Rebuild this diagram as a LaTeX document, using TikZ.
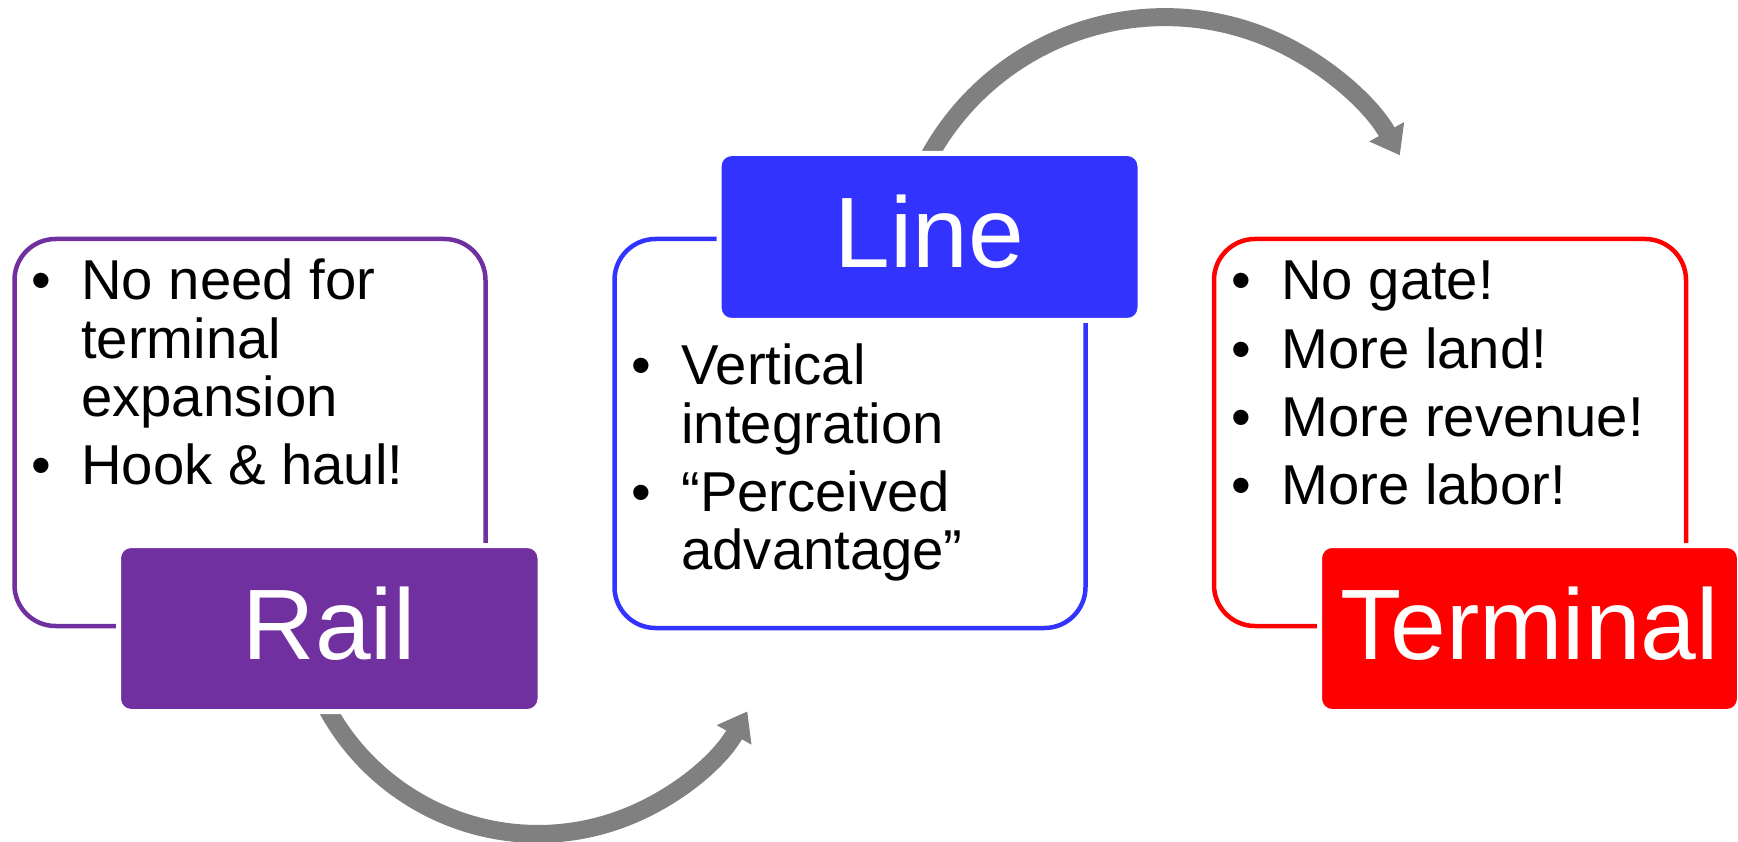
\documentclass[tikz,border=0pt]{standalone}
\usepackage{fontspec}
\setmainfont{Liberation Sans}
\usepackage{xcolor}
\usetikzlibrary{arrows.meta}

\definecolor{railpurple}{HTML}{7030A0}
\definecolor{lineblue}{HTML}{3333FF}
\definecolor{termred}{HTML}{FF0000}
\definecolor{arrowgray}{HTML}{808080}

\tikzset{
    outline/.style={rectangle, rounded corners=0.82cm, line width=0.09cm, inner sep=0pt},
    titlebox/.style={rectangle, rounded corners=0.25cm, draw=white, line width=0.1cm, text=white,
        font=\fontsize{57}{62}\selectfont, text height=1.44cm, text depth=0.2cm, inner sep=0pt},
    bullets/.style={anchor=base west, inner sep=0pt, font=\fontsize{32}{33}\selectfont},
    flow/.style={draw=arrowgray, line width=0.36cm, -{Triangle[width=0.76cm,length=0.54cm]}}
}

\begin{document}
\begin{tikzpicture}
            \useasboundingbox (0,0) rectangle (34.76,16.82);

            \node (railbox) at (5.0,8.17) [outline, draw=railpurple, minimum width=9.42cm, minimum height=7.74cm] {};
            \node (linebox) at (17.0,8.15) [outline, draw=lineblue, minimum width=9.42cm, minimum height=7.78cm] {};
            \node (termbox) at (29.0,8.17) [outline, draw=termred, minimum width=9.44cm, minimum height=7.74cm] {};

            \node (railtext) at (0.62,10.82) [bullets] {\begin{tabular}[t]{@{}p{1.0cm}@{}l@{}}
                • & No need for\\ & terminal\\ & expansion\\[0.2cm]
                • & Hook \& haul!
            \end{tabular}};
            \node (linetext) at (12.62,9.12) [bullets] {\begin{tabular}[t]{@{}p{1.0cm}@{}l@{}}
                • & Vertical\\ & integration\\[0.2cm]
                • & “Perceived\\ & advantage”
            \end{tabular}};
            \node (termtext) at (24.62,10.82) [bullets] {\begin{tabular}[t]{@{}p{1.0cm}@{}l@{}}
                • & No gate!\\[0.2cm]
                • & More land!\\[0.2cm]
                • & More revenue!\\[0.2cm]
                • & More labor!
            \end{tabular}};

            \coordinate (railstart) at (6.25,3.30);
            \coordinate (linestart) at (18.42,13.37);
            \draw[flow] (railstart) arc[start angle=200, end angle=330.7, radius=4.8cm];
            \draw[flow] (linestart) arc[start angle=155, end angle=29.1, radius=5.38cm];

            \node (rail) at (6.585,4.25) [titlebox, fill=railpurple, minimum width=8.43cm, minimum height=3.32cm] {Rail};
            \node (line) at (18.59,12.08) [titlebox, fill=lineblue, minimum width=8.42cm, minimum height=3.34cm] {Line};
            \node (term) at (30.59,4.25) [titlebox, fill=termred, minimum width=8.4cm, minimum height=3.32cm] {Terminal};
\end{tikzpicture}
\end{document}
